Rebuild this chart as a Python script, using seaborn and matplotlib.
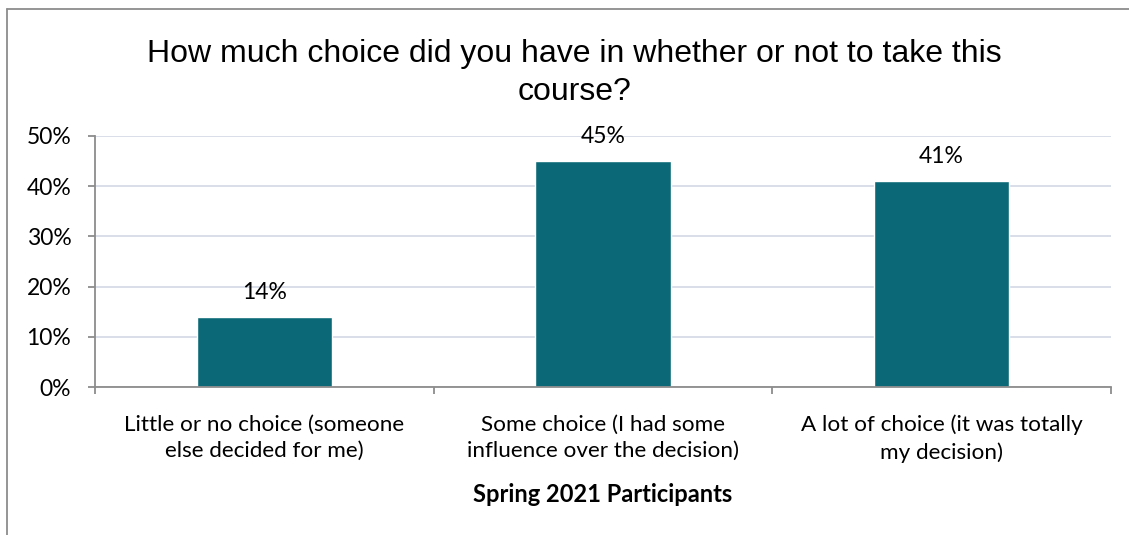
import matplotlib
matplotlib.use("Agg")
import matplotlib.pyplot as plt
from matplotlib.lines import Line2D
from matplotlib.ticker import FixedLocator, PercentFormatter
import pandas as pd
import seaborn as sns

categories = [
    "Little or no choice (someone\nelse decided for me)",
    "Some choice (I had some\ninfluence over the decision)",
    "A lot of choice (it was totally\nmy decision)",
]
shares = [0.14, 0.45, 0.41]
value_labels = ["14%", "45%", "41%"]
title_text = "How much choice did you have in whether or not to take this\ncourse?"
x_title = "Spring 2021 Participants"

sns.set_theme(style="white")
plt.rcParams["font.family"] = ["Lato", "DejaVu Sans"]

df = pd.DataFrame({"category": categories, "share": shares})

fig = plt.figure(figsize=(11.29, 5.35), dpi=100)
ax = fig.add_axes([0.0841, 0.2766, 0.8997, 0.4692])

bar_color = "#0B6977"
sns.barplot(data=df, x="category", y="share", color=bar_color, width=0.4,
            saturation=1, ax=ax)

ax.set_ylim(0, 0.5)
ax.set_xlim(-0.5, 2.5)
ax.yaxis.set_major_locator(FixedLocator([0, 0.1, 0.2, 0.3, 0.4, 0.5]))
ax.yaxis.set_major_formatter(PercentFormatter(1.0, decimals=0))
ax.grid(axis="y", color="#D9DEE8", linewidth=1.4)
ax.set_axisbelow(True)

for side in ("top", "right"):
    ax.spines[side].set_visible(False)
for side in ("left", "bottom"):
    ax.spines[side].set_color("#8C8C8C")
    ax.spines[side].set_linewidth(1.3)

ax.tick_params(axis="y", which="major", left=True, length=5, width=1.3,
               color="#8C8C8C", labelsize=16.5, labelcolor="black", pad=12)
ax.tick_params(axis="x", which="major", bottom=False, labelsize=16.2,
               labelcolor="black", pad=14)
ax.xaxis.set_minor_locator(FixedLocator([-0.5, 0.5, 1.5, 2.5]))
ax.tick_params(axis="x", which="minor", bottom=True, length=5, width=1.3,
               color="#8C8C8C")
for t in ax.get_xticklabels():
    t.set_linespacing(1.4)

ax.set_xlabel(x_title, fontsize=17, fontweight="bold", color="black", labelpad=15)
ax.set_ylabel("")

for i, (v, lab) in enumerate(zip(shares, value_labels)):
    ax.annotate(lab, (i, v), xytext=(0, 10), textcoords="offset points",
                ha="center", va="bottom", fontsize=16.5, color="black")

fig.text(0.509, 0.927, title_text, ha="center", va="top", fontsize=23,
         family=["Liberation Sans", "DejaVu Sans"], color="black",
         linespacing=1.35)

# chart frame (left and top edges)
fig.add_artist(Line2D([0.0062, 0.0062], [0.0, 0.983], transform=fig.transFigure,
                      color="#8C8C8C", linewidth=1.3))
fig.add_artist(Line2D([0.0062, 1.0], [0.983, 0.983], transform=fig.transFigure,
                      color="#8C8C8C", linewidth=1.3))

fig.savefig("out.png", dpi=100)
